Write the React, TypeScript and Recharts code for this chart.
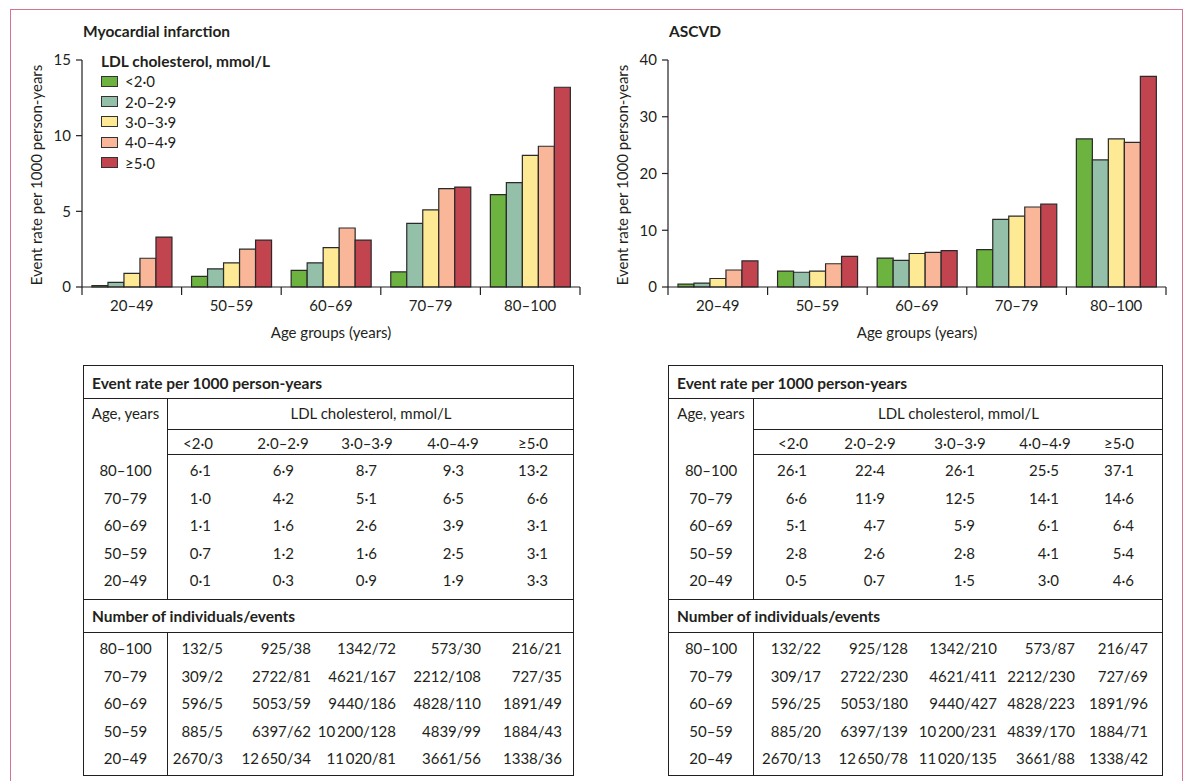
import React from 'react';
import { BarChart, Bar, XAxis, YAxis, Legend } from 'recharts';

const FONT = 'Lato, "Noto Sans", sans-serif';
const INK = '#231f20';
const FS = 15;
const FS_BOLD = 15.5;

const ageGroups = ['20–49', '50–59', '60–69', '70–79', '80–100'];
const ldlBands = ['<2·0', '2·0–2·9', '3·0–3·9', '4·0–4·9', '≥5·0'];
const bandColors = ['#6cb33f', '#94c0a9', '#fee995', '#f9b698', '#c1444f'];

// event rate per 1000 person-years, one array per LDL band, in ageGroups order
const miBelow2 = [0.1, 0.7, 1.1, 1.0, 6.1];
const mi2to3 = [0.3, 1.2, 1.6, 4.2, 6.9];
const mi3to4 = [0.9, 1.6, 2.6, 5.1, 8.7];
const mi4to5 = [1.9, 2.5, 3.9, 6.5, 9.3];
const mi5plus = [3.3, 3.1, 3.1, 6.6, 13.2];

const ascvdBelow2 = [0.5, 2.8, 5.1, 6.6, 26.1];
const ascvd2to3 = [0.7, 2.6, 4.7, 11.9, 22.4];
const ascvd3to4 = [1.5, 2.8, 5.9, 12.5, 26.1];
const ascvd4to5 = [3.0, 4.1, 6.1, 14.1, 25.5];
const ascvd5plus = [4.6, 5.4, 6.4, 14.6, 37.1];

const miTicks = [0, 5, 10, 15];
const ascvdTicks = [0, 10, 20, 30, 40];

// individuals per LDL band, in ageGroups order
const nBelow2 = [2670, 885, 596, 309, 132];
const n2to3 = [12650, 6397, 5053, 2722, 925];
const n3to4 = [11020, 10200, 9440, 4621, 1342];
const n4to5 = [3661, 4839, 4828, 2212, 573];
const n5plus = [1338, 1884, 1891, 727, 216];

// events per LDL band, in ageGroups order
const miEvBelow2 = [3, 5, 5, 2, 5];
const miEv2to3 = [34, 62, 59, 81, 38];
const miEv3to4 = [81, 128, 186, 167, 72];
const miEv4to5 = [56, 99, 110, 108, 30];
const miEv5plus = [36, 43, 49, 35, 21];

const ascvdEvBelow2 = [13, 20, 25, 17, 22];
const ascvdEv2to3 = [78, 139, 180, 230, 128];
const ascvdEv3to4 = [135, 231, 427, 411, 210];
const ascvdEv4to5 = [88, 170, 223, 230, 87];
const ascvdEv5plus = [42, 71, 96, 69, 47];

const individuals = [nBelow2, n2to3, n3to4, n4to5, n5plus];
const miRates = [miBelow2, mi2to3, mi3to4, mi4to5, mi5plus];
const ascvdRates = [ascvdBelow2, ascvd2to3, ascvd3to4, ascvd4to5, ascvd5plus];
const miEvents = [miEvBelow2, miEv2to3, miEv3to4, miEv4to5, miEv5plus];
const ascvdEvents = [ascvdEvBelow2, ascvdEv2to3, ascvdEv3to4, ascvdEv4to5, ascvdEv5plus];

const toRows = (rates: number[][]) =>
  ageGroups.map((age, i) => {
    const row: Record<string, any> = { age };
    ldlBands.forEach((_, b) => (row['b' + b] = rates[b][i]));
    return row;
  });

const fmtRate = (v: number) => v.toFixed(1).replace('.', '·');
const fmtCount = (v: number) =>
  v >= 10000 ? `${Math.floor(v / 1000)}\u2009${String(v % 1000).padStart(3, '0')}` : String(v);

// chart layout
const CHART_W = 600;
const CHART_H = 350;
const MARGIN = { top: 60, right: 20, bottom: 13, left: 42 };
const Y_AXIS_W = 40;
const X_AXIS_H = 50;
const PLOT_W = CHART_W - MARGIN.left - MARGIN.right - Y_AXIS_W;
const AXIS_Y = CHART_H - MARGIN.bottom - X_AXIS_H;
const BAND = PLOT_W / ageGroups.length;

const AgeTick = (props: any) => {
  const { x, payload, index } = props;
  const last = index === ageGroups.length - 1;
  return (
    <g>
      <line x1={x - BAND / 2} x2={x - BAND / 2} y1={AXIS_Y} y2={AXIS_Y + 8} stroke={INK} strokeWidth={1.2} />
      {last && <line x1={x + BAND / 2} x2={x + BAND / 2} y1={AXIS_Y} y2={AXIS_Y + 8} stroke={INK} strokeWidth={1.2} />}
      <text x={x} y={AXIS_Y + 24} textAnchor="middle" fontSize={FS} fill={INK} fontFamily={FONT}>
        {payload.value}
      </text>
    </g>
  );
};

const LdlLegend = (props: any) => {
  const items = [...(props.payload || [])].sort(
    (a: any, b: any) => ldlBands.indexOf(a.value) - ldlBands.indexOf(b.value)
  );
  return (
    <div style={{ fontFamily: FONT, color: INK, fontSize: FS }}>
      <div style={{ fontWeight: 700, fontSize: FS_BOLD, height: 20, lineHeight: '20px' }}>LDL cholesterol, mmol/L</div>
      {items.map((p: any) => (
        <div key={p.value} style={{ display: 'flex', alignItems: 'center', height: 20.4 }}>
          <span
            style={{
              width: 17,
              height: 11,
              background: p.color,
              border: '1px solid #333',
              boxSizing: 'border-box',
              marginRight: 7,
            }}
          />
          <span>{p.value}</span>
        </div>
      ))}
    </div>
  );
};

const overlay = (extra: React.CSSProperties): React.CSSProperties => ({
  position: 'absolute',
  fontFamily: FONT,
  fontSize: FS,
  color: INK,
  whiteSpace: 'nowrap',
  lineHeight: '16px',
  ...extra,
});

const RateChart = ({ left, title, rates, ticks, legend }: any) => (
  <div style={{ position: 'absolute', left, top: 0, width: CHART_W, height: CHART_H }}>
    <BarChart
      width={CHART_W}
      height={CHART_H}
      data={toRows(rates)}
      margin={MARGIN}
      barGap={0}
      barCategoryGap="10%"
    >
      <XAxis
        dataKey="age"
        height={X_AXIS_H}
        interval={0}
        tickLine={false}
        tick={<AgeTick />}
        axisLine={{ stroke: INK, strokeWidth: 1.2 }}
      />
      <YAxis
        width={Y_AXIS_W}
        domain={[ticks[0], ticks[ticks.length - 1]]}
        ticks={ticks}
        interval={0}
        tickSize={6}
        tickMargin={5}
        axisLine={{ stroke: INK, strokeWidth: 1.2 }}
        tickLine={{ stroke: INK, strokeWidth: 1.2 }}
        tick={{ fontSize: FS, fill: INK, fontFamily: FONT }}
      />
      {legend && (
        <Legend
          content={<LdlLegend />}
          layout="vertical"
          align="center"
          verticalAlign="middle"
          wrapperStyle={{ left: 101, top: 51, width: 'auto' }}
        />
      )}
      {ldlBands.map((band, b) => (
        <Bar
          key={band}
          dataKey={'b' + b}
          name={band}
          fill={bandColors[b]}
          stroke="#2a2a2a"
          strokeWidth={1.2}
          isAnimationActive={false}
        />
      ))}
    </BarChart>
    <div style={overlay({ left: 83, top: 23, fontWeight: 700, fontSize: FS_BOLD })}>{title}</div>
    <div style={overlay({ left: 36, top: 175, transform: 'translate(-50%,-50%) rotate(-90deg)' })}>
      Event rate per 1000 person-years
    </div>
    <div style={overlay({ left: 331, top: 332, transform: 'translate(-50%,-50%)' })}>Age groups (years)</div>
  </div>
);

// table layout
const TABLE_TOP = 365;
const TABLE_H = 411;
const ROW_STEP = 27.5;

const Line = ({ x, y, w, h }: any) => (
  <div style={{ position: 'absolute', left: x, top: y, width: w, height: h, background: INK }} />
);

const Txt = ({ cy, left, right, center, bold, children }: any) => {
  const s: React.CSSProperties = overlay({
    top: cy - 10,
    height: 20,
    lineHeight: '20px',
    fontWeight: bold ? 700 : 400,
    fontSize: bold ? FS_BOLD : FS,
  });
  if (center !== undefined) {
    s.left = center - 100;
    s.width = 200;
    s.textAlign = 'center';
  } else if (right !== undefined) {
    s.left = right - 150;
    s.width = 150;
    s.textAlign = 'right';
  } else {
    s.left = left;
  }
  return <div style={s}>{children}</div>;
};

const DataTable = ({ left, width, divider, headCenters, rateRight, countRight, rates, events }: any) => {
  const order = ageGroups.map((_, i) => ageGroups.length - 1 - i);
  return (
    <div
      style={{
        position: 'absolute',
        left,
        top: TABLE_TOP,
        width,
        height: TABLE_H,
        border: `1px solid ${INK}`,
        boxSizing: 'border-box',
      }}
    >
      <Line x={0} y={32} w={width - 2} h={1} />
      <Line x={divider} y={33} w={1} h={201} />
      <Line x={divider} y={63} w={width - 2 - divider} h={1} />
      <Line x={divider} y={88} w={width - 2 - divider} h={1} />
      <Line x={0} y={233} w={width - 2} h={1} />
      <Line x={0} y={266} w={width - 2} h={1} />
      <Line x={divider} y={267} w={1} h={TABLE_H - 269} />

      <Txt cy={17} left={8} bold>Event rate per 1000 person-years</Txt>
      <Txt cy={47} center={divider / 2}>Age, years</Txt>
      <Txt cy={47} center={(divider + width) / 2}>LDL cholesterol, mmol/L</Txt>
      {ldlBands.map((band, b) => (
        <Txt key={band} cy={77} center={headCenters[b]}>{band}</Txt>
      ))}
      {order.map((ai, r) => (
        <React.Fragment key={'r' + ai}>
          <Txt cy={104 + r * ROW_STEP} center={divider / 2}>{ageGroups[ai]}</Txt>
          {ldlBands.map((band, b) => (
            <Txt key={band} cy={104 + r * ROW_STEP} right={rateRight[b]}>{fmtRate(rates[b][ai])}</Txt>
          ))}
        </React.Fragment>
      ))}
      <Txt cy={250} left={8} bold>Number of individuals/events</Txt>
      {order.map((ai, r) => (
        <React.Fragment key={'c' + ai}>
          <Txt cy={282 + r * ROW_STEP} center={divider / 2}>{ageGroups[ai]}</Txt>
          {ldlBands.map((band, b) => (
            <Txt key={band} cy={282 + r * ROW_STEP} right={countRight[b]}>
              {fmtCount(individuals[b][ai])}/{events[b][ai]}
            </Txt>
          ))}
        </React.Fragment>
      ))}
    </div>
  );
};

export default function App() {
  return (
    <div
      style={{
        position: 'absolute',
        left: 0,
        top: 0,
        width: 1186,
        height: 781,
        overflow: 'hidden',
        background: '#fff',
        fontFamily: FONT,
      }}
    >
      <div
        style={{
          position: 'absolute',
          left: 10,
          top: 9,
          width: 1173,
          height: 800,
          border: '1.5px solid #d4758f',
          borderBottom: 'none',
          boxSizing: 'border-box',
        }}
      />
      <RateChart left={0} title="Myocardial infarction" rates={miRates} ticks={miTicks} legend />
      <RateChart left={586} title="ASCVD" rates={ascvdRates} ticks={ascvdTicks} />
      <DataTable
        left={83}
        width={491}
        divider={83}
        headCenters={[114, 199, 283, 369, 449]}
        rateRight={[127, 210, 293, 380, 464]}
        countRight={[139, 227, 312, 397, 478]}
        rates={miRates}
        events={miEvents}
      />
      <DataTable
        left={668}
        width={495}
        divider={84}
        headCenters={[124, 201, 291, 376, 450]}
        rateRight={[138, 216, 306, 390, 465]}
        countRight={[152, 239, 328, 406, 479]}
        rates={ascvdRates}
        events={ascvdEvents}
      />
    </div>
  );
}
